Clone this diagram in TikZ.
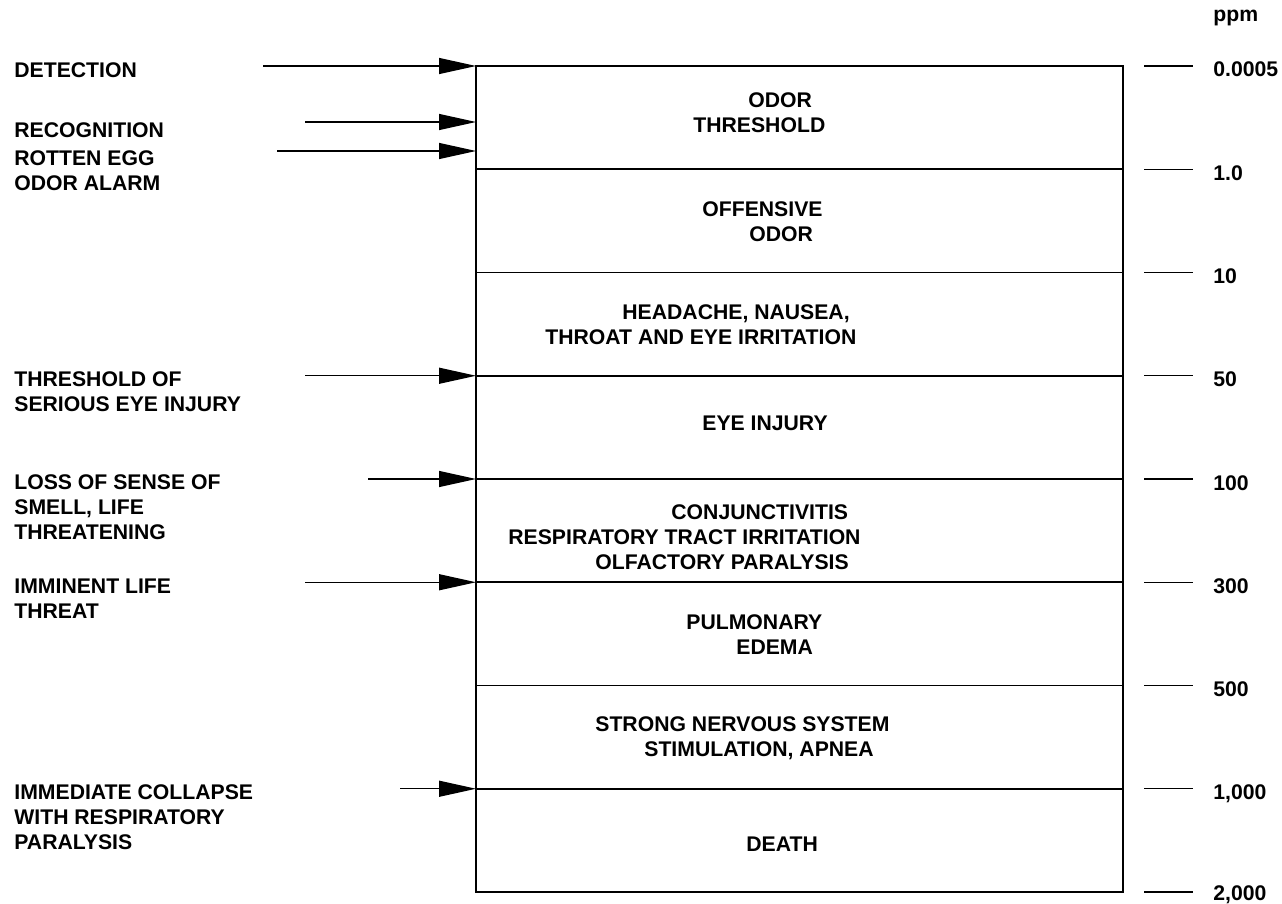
\documentclass[tikz,border=0pt]{standalone}
\usepackage{fontspec}
\setmainfont{Liberation Sans}
\usetikzlibrary{arrows.meta}
\usetikzlibrary{positioning}

\begin{document}
\begin{tikzpicture}[x=0.5pt,y=-0.5pt,
    every node/.style={font=\bfseries\fontsize{10.6}{12.5}\selectfont, inner sep=0pt},
    lbl/.style={anchor=north west, align=left},
    ptr/.style={-{Triangle[length=18.5pt,width=8pt]}, line width=0.65pt},
    tickline/.style={line width=0.7pt}]
	\useasboundingbox (0,0) rectangle (1282,904);
	% Distance between two levels of the scale
	\def\gap{103.25}

	% Points of each level on the box and on the tick marks
	\foreach \i in {0,...,8}
		{\coordinate (L\i) at (476,{66+\i*\gap});
		 \coordinate (R\i) at (1123,{66+\i*\gap});
		 \coordinate (ta\i) at (1144,{66+\i*\gap});
		 \coordinate (tb\i) at (1193,{66+\i*\gap});}

	% Box and level lines
	\foreach \i in {1,...,7}
		{\draw[line width=0.8pt] (L\i) -- (R\i);}
	\draw[line width=1pt] (L0) rectangle (R8);

	% Scale on the right
	\node[anchor=base west] (unit) at (1213,22) {ppm};
	\foreach \i/\v in {0/0.0005,1/1.0,2/10,3/50,4/100,5/300,6/500,7/{1,000},8/{2,000}}
		{\draw[tickline] (ta\i) -- (tb\i);
		 \node[anchor=base west] (v\i) at (1213,{77+\i*\gap-3*(\i>7)}) {\v};}

	% Effects inside the box
	\node[lbl] (b1) at (693,92.5) {\hspace*{27.5pt}ODOR\\THRESHOLD};
	\node[lbl] (b2) at (702,201.5) {OFFENSIVE\\\hspace*{23.5pt}ODOR};
	\node[lbl] (b3) at (545,304.5) {\hspace*{38.5pt}HEADACHE, NAUSEA,\\THROAT AND EYE IRRITATION};
	\node[lbl] (b4) at (702,415.5) {EYE INJURY};
	\node[lbl] (b5) at (508,504.5) {\hspace*{81.5pt}CONJUNCTIVITIS\\RESPIRATORY TRACT IRRITATION\\\hspace*{43.5pt}OLFACTORY PARALYSIS};
	\node[lbl] (b6) at (686,614.5) {PULMONARY\\\hspace*{25pt}EDEMA};
	\node[lbl] (b7) at (595,716.5) {STRONG NERVOUS SYSTEM\\\hspace*{24.5pt}STIMULATION, APNEA};
	\node[lbl] (b8) at (746,836.5) {DEATH};

	% Labels on the left
	\node[lbl] (detect) at (14,62.5) {DETECTION};
	\node[lbl] (recog) at (14,122) {RECOGNITION};
	\node[lbl] (rotten) at (14,150) {ROTTEN EGG\\ODOR ALARM};
	\node[lbl] (eyeinj) at (14,371.5) {THRESHOLD OF\\SERIOUS EYE INJURY};
	\node[lbl] (smell) at (14,474.5) {LOSS OF SENSE OF\\SMELL, LIFE\\THREATENING};
	\node[lbl] (threat) at (14,578.5) {IMMINENT LIFE\\THREAT};
	\node[lbl] (collapse) at (14,784.5) {IMMEDIATE COLLAPSE\\WITH RESPIRATORY\\PARALYSIS};

	% Arrows pointing at the box
	\coordinate (s1) at (263,66);
	\coordinate (s2) at (305,122);
	\coordinate (e2) at (476,122);
	\coordinate (s3) at (277,151);
	\coordinate (e3) at (476,151);
	\coordinate (s4) at (305,{66+3*\gap});
	\coordinate (s5) at (368,{66+4*\gap});
	\coordinate (s6) at (305,{66+5*\gap});
	\coordinate (s7) at (400,{66+7*\gap});
	\draw[ptr] (s1) -- (L0);
	\draw[ptr] (s2) -- (e2);
	\draw[ptr] (s3) -- (e3);
	\draw[ptr] (s4) -- (L3);
	\draw[ptr] (s5) -- (L4);
	\draw[ptr] (s6) -- (L5);
	\draw[ptr] (s7) -- (L7);
\end{tikzpicture}
\end{document}
